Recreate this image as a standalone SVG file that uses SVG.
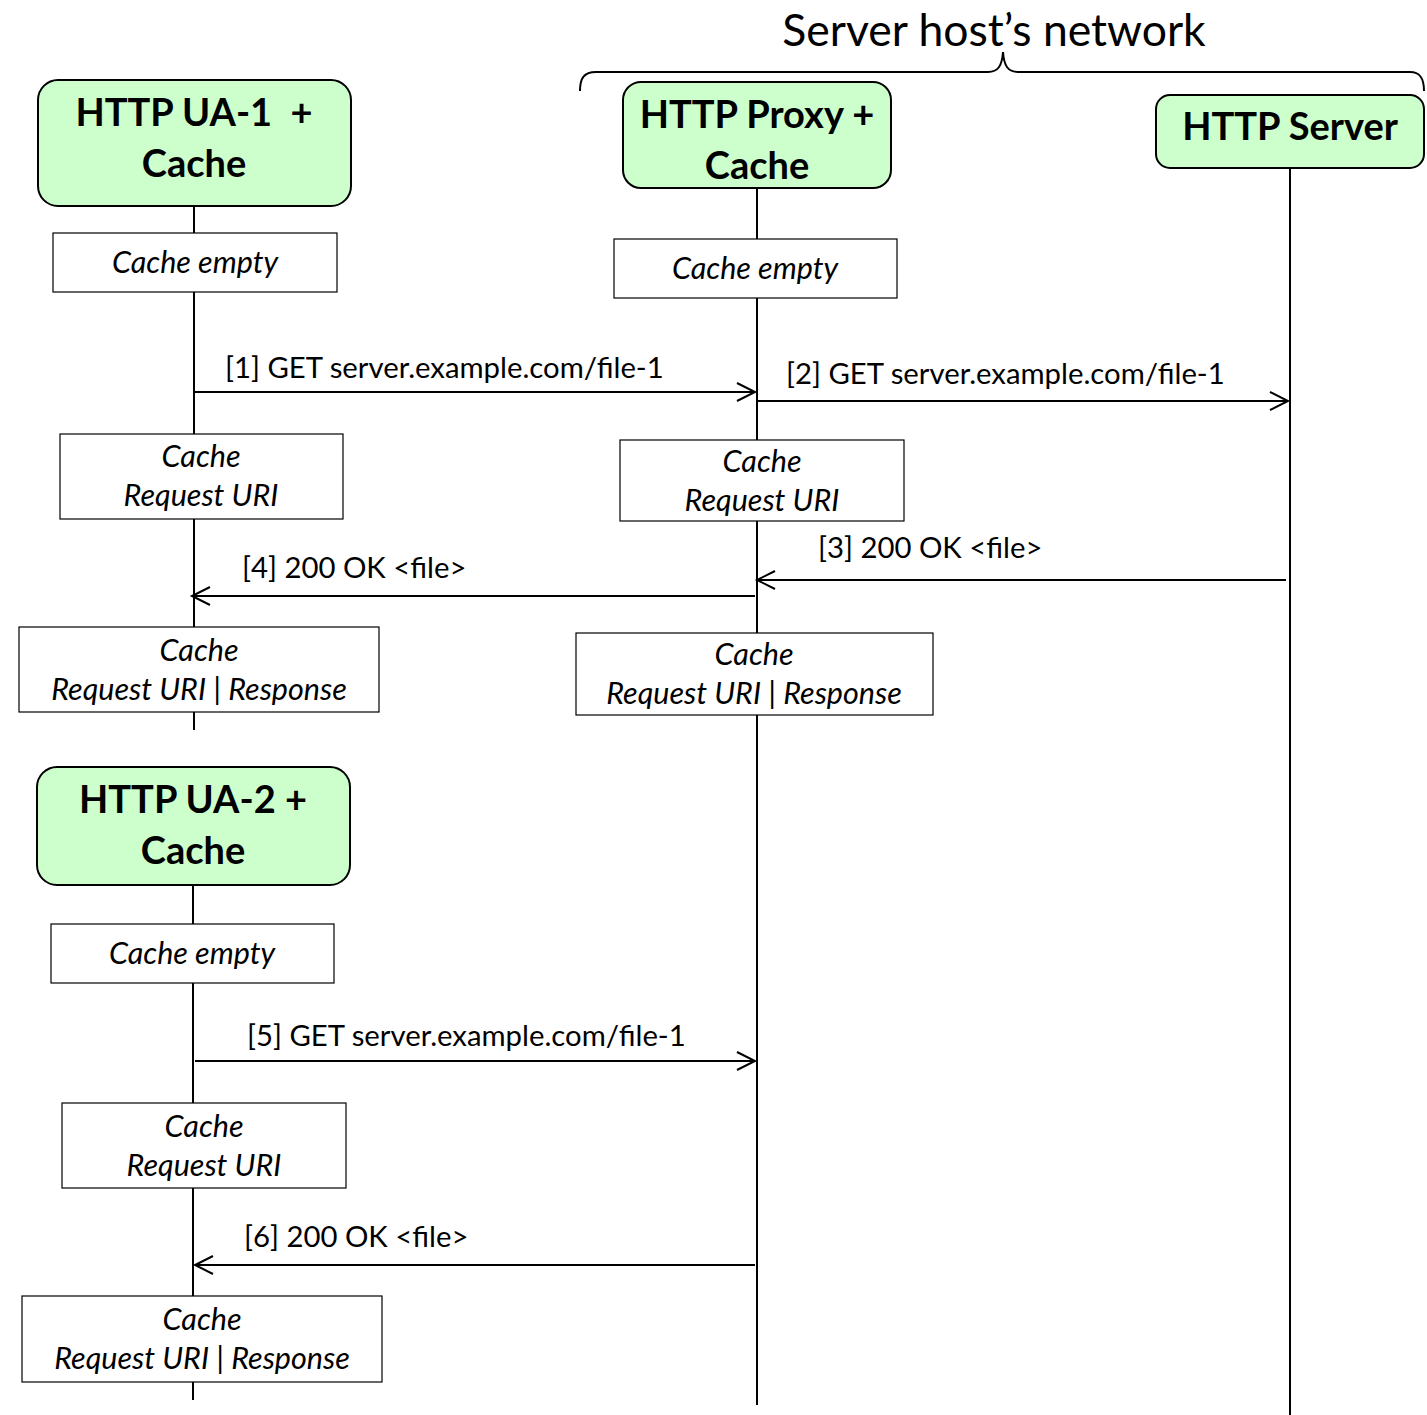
<svg xmlns="http://www.w3.org/2000/svg" width="1427" height="1415" viewBox="0 0 1427 1415">
  <style>
    .actor { fill: #ccffcc; stroke: #000; stroke-width: 2; }
    .actor-text { font-family: Lato, "Open Sans", sans-serif; font-weight: bold; font-size: 38px; text-anchor: middle; fill: #000; white-space: pre; }
    .life { stroke: #000; stroke-width: 2; fill: none; }
    .note { fill: #fff; stroke: #000; stroke-width: 1.2; }
    .note-text { font-family: Lato, "Open Sans", sans-serif; font-style: italic; font-size: 30.5px; text-anchor: middle; fill: #000; }
    .msg { stroke: #000; stroke-width: 2; fill: none; marker-end: url(#open-arrow); }
    .msg-text { font-family: Lato, "Open Sans", sans-serif; font-size: 29.3px; fill: #000; }
    .title { font-family: Lato, "Open Sans", sans-serif; font-size: 44.5px; text-anchor: middle; fill: #000; }
  </style>
  <defs>
    <marker id="open-arrow" markerWidth="24" markerHeight="24" refX="19" refY="10" orient="auto" markerUnits="userSpaceOnUse">
      <path d="M1,1 L19,10 L1,19" fill="none" stroke="#000" stroke-width="2"/>
    </marker>
  </defs>
  <rect width="1427" height="1415" fill="#fff"/>

  <!-- network brace and caption -->
  <g id="network">
    <text class="title" x="994" y="46">Server host’s network</text>
    <path d="M580,91 C580,78 584,72 596,72 L988,72 C998,72 1002,66 1003,52 C1004,66 1008,72 1018,72 L1410,72 C1420,72 1424,78 1424,91" fill="none" stroke="#000" stroke-width="2"/>
  </g>

  <!-- lifelines -->
  <g id="lifelines">
    <line class="life" x1="194" y1="206" x2="194" y2="730"/>
    <line class="life" x1="757" y1="188" x2="757" y2="1405"/>
    <line class="life" x1="1290" y1="168" x2="1290" y2="1415"/>
    <line class="life" x1="193" y1="885" x2="193" y2="1400"/>
  </g>

  <!-- participants -->
  <g id="ua1">
    <rect class="actor" x="38" y="80" width="313" height="126" rx="20"/>
    <text class="actor-text" x="194" y="126" xml:space="preserve">HTTP UA-1  +</text>
    <text class="actor-text" x="194" y="177">Cache</text>
  </g>
  <g id="proxy">
    <rect class="actor" x="623" y="82" width="268" height="106" rx="18"/>
    <text class="actor-text" x="757" y="128">HTTP Proxy +</text>
    <text class="actor-text" x="757" y="179">Cache</text>
  </g>
  <g id="server">
    <rect class="actor" x="1156" y="95" width="268" height="73" rx="14"/>
    <text class="actor-text" x="1290" y="140">HTTP Server</text>
  </g>
  <g id="ua2">
    <rect class="actor" x="37" y="767" width="313" height="118" rx="20"/>
    <text class="actor-text" x="193" y="813">HTTP UA-2 +</text>
    <text class="actor-text" x="193" y="864">Cache</text>
  </g>

  <!-- cache state notes -->
  <g id="ua1-empty">
    <rect class="note" x="53" y="233" width="284" height="59"/>
    <text class="note-text" x="195" y="273">Cache empty</text>
  </g>
  <g id="proxy-empty">
    <rect class="note" x="614" y="239" width="283" height="59"/>
    <text class="note-text" x="755" y="279">Cache empty</text>
  </g>
  <g id="ua1-uri">
    <rect class="note" x="60" y="434" width="283" height="85"/>
    <text class="note-text" x="201" y="467">Cache</text>
    <text class="note-text" x="201" y="506">Request URI</text>
  </g>
  <g id="proxy-uri">
    <rect class="note" x="620" y="440" width="284" height="81"/>
    <text class="note-text" x="762" y="472">Cache</text>
    <text class="note-text" x="762" y="511">Request URI</text>
  </g>
  <g id="ua1-full">
    <rect class="note" x="19" y="627" width="360" height="85"/>
    <text class="note-text" x="199" y="661">Cache</text>
    <text class="note-text" x="199" y="700" xml:space="preserve">Request URI | Response</text>
  </g>
  <g id="proxy-full">
    <rect class="note" x="576" y="633" width="357" height="82"/>
    <text class="note-text" x="754" y="665">Cache</text>
    <text class="note-text" x="754" y="704" xml:space="preserve">Request URI | Response</text>
  </g>
  <g id="ua2-empty">
    <rect class="note" x="51" y="924" width="283" height="59"/>
    <text class="note-text" x="192" y="964">Cache empty</text>
  </g>
  <g id="ua2-uri">
    <rect class="note" x="62" y="1103" width="284" height="85"/>
    <text class="note-text" x="204" y="1137">Cache</text>
    <text class="note-text" x="204" y="1176">Request URI</text>
  </g>
  <g id="ua2-full">
    <rect class="note" x="22" y="1296" width="360" height="86"/>
    <text class="note-text" x="202" y="1330">Cache</text>
    <text class="note-text" x="202" y="1369" xml:space="preserve">Request URI | Response</text>
  </g>

  <!-- messages -->
  <g id="connectors">
    <line class="msg" x1="194" y1="392" x2="755" y2="392"/>
    <text class="msg-text" x="225" y="378">[1] GET server.example.com/file-1</text>
    <line class="msg" x1="757" y1="401" x2="1288" y2="401"/>
    <text class="msg-text" x="786" y="384">[2] GET server.example.com/file-1</text>
    <line class="msg" x1="1286" y1="580" x2="757" y2="580"/>
    <text class="msg-text" x="818" y="558">[3] 200 OK &lt;file&gt;</text>
    <line class="msg" x1="755" y1="596" x2="192" y2="596"/>
    <text class="msg-text" x="242" y="578">[4] 200 OK &lt;file&gt;</text>
    <line class="msg" x1="195" y1="1061" x2="755" y2="1061"/>
    <text class="msg-text" x="247" y="1046">[5] GET server.example.com/file-1</text>
    <line class="msg" x1="755" y1="1265" x2="195" y2="1265"/>
    <text class="msg-text" x="244" y="1247">[6] 200 OK &lt;file&gt;</text>
  </g>
</svg>
